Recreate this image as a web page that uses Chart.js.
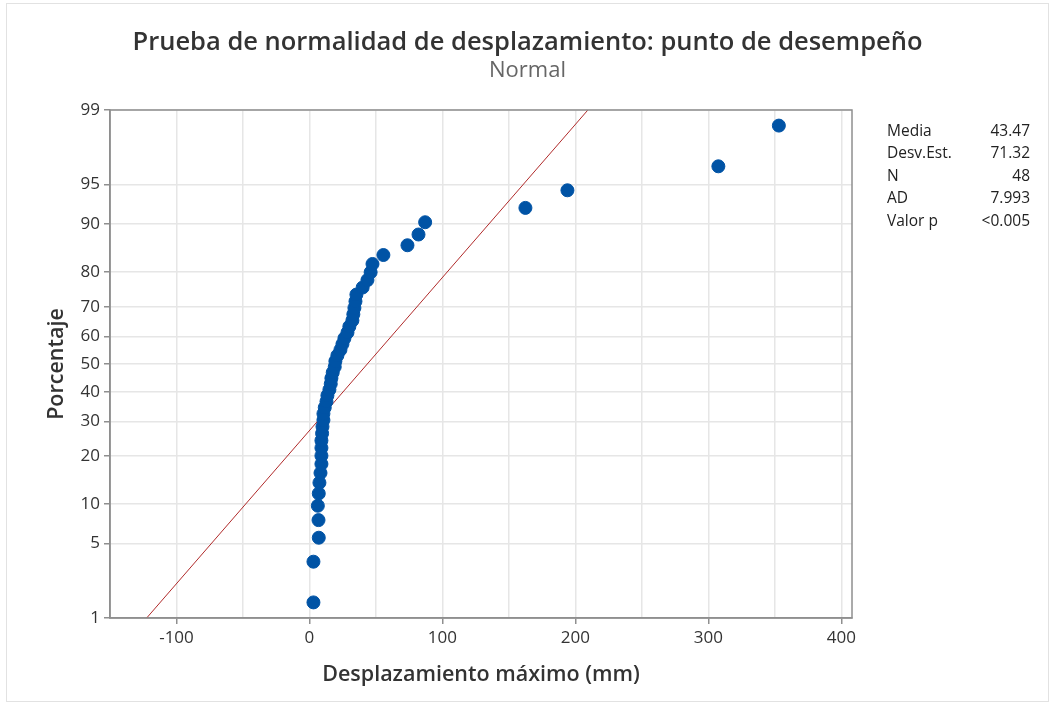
<!DOCTYPE html>
<html>
<head>
<meta charset="utf-8">
<script src="https://cdn.jsdelivr.net/npm/chart.js@4"></script>
<style>
    html, body { margin: 0; padding: 0; background: #fff; }
    .wrap { position: relative; width: 1055px; height: 706px; }
    .frame { position: absolute; left: 6px; top: 3px; width: 1043px; height: 699px; border: 1px solid #e2e2e2; box-sizing: border-box; pointer-events: none; }
    #stats { position: absolute; left: 887px; top: 119px; width: 143px; font-family: "Open Sans", "Noto Sans", sans-serif; font-size: 15.5px; color: #222; }
    #stats .row { display: flex; justify-content: space-between; height: 22.4px; line-height: 22.4px; white-space: nowrap; }
</style>
</head>
<body>
<div class="wrap">
    <canvas id="chart" width="1055" height="706"></canvas>
    <div class="frame"></div>
    <div id="stats"></div>
</div>
<script>
// ======== Data ========
// Displacement values, ordered (mm)
const desplazamiento = [
    3, 3, 7, 6.8, 6.3, 7, 7.5, 8.3, 9, 9,
    9, 9, 9.5, 9.8, 10.5, 10.5, 11.5, 12.8, 13.5, 15,
    16, 16.5, 17.5, 19, 19.5, 21, 23.3, 24.8, 26.3, 28.6,
    30, 32.3, 33, 33.8, 34.6, 35.3, 40, 43.6, 46, 47.4,
    55.6, 73.7, 82, 87, 162.4, 194, 307.5, 353
];
// Plotted percentages (median ranks) for each point
const porcentaje = [
    1.45, 3.51, 5.58, 7.64, 9.71, 11.78, 13.84, 15.91, 17.98, 20.04,
    22.11, 24.17, 26.24, 28.31, 30.37, 32.44, 34.50, 36.57, 38.64, 40.70,
    42.77, 44.83, 46.90, 48.97, 51.03, 53.10, 55.17, 57.23, 59.30, 61.36,
    63.43, 65.50, 67.56, 69.63, 71.69, 73.76, 75.83, 77.89, 79.96, 82.02,
    84.09, 86.16, 88.22, 90.29, 92.36, 94.42, 96.49, 98.55
];
const percentTicks = [1, 5, 10, 20, 30, 40, 50, 60, 70, 80, 90, 95, 99];
const xTicks = [-150, -100, -50, 0, 50, 100, 150, 200, 250, 300, 350, 400];
const statLabels = ['Media', 'Desv.Est.', 'N', 'AD', 'Valor p'];
const statValues = ['43.47', '71.32', '48', '7.993', '<0.005'];
const media = 43.47;
const desvEst = 71.32;

// ======== Normal quantile (probit) ========
function probit(p) {
    const a = [-39.69683028665376, 220.9460984245205, -275.9285104469687, 138.3577518672690, -30.66479806614716, 2.506628277459239];
    const b = [-54.47609879822406, 161.5858368580409, -155.6989798598866, 66.80131188771972, -13.28068155288572];
    const c = [-0.007784894002430293, -0.3223964580411365, -2.400758277161838, -2.549732539343734, 4.374664141464968, 2.938163982698783];
    const d = [0.007784695709041462, 0.3224671290700398, 2.445134137142996, 3.754408661907416];
    const pl = 0.02425;
    let q, r;
    if (p < pl) {
        q = Math.sqrt(-2 * Math.log(p));
        return (((((c[0] * q + c[1]) * q + c[2]) * q + c[3]) * q + c[4]) * q + c[5]) / ((((d[0] * q + d[1]) * q + d[2]) * q + d[3]) * q + 1);
    }
    if (p > 1 - pl) {
        q = Math.sqrt(-2 * Math.log(1 - p));
        return -(((((c[0] * q + c[1]) * q + c[2]) * q + c[3]) * q + c[4]) * q + c[5]) / ((((d[0] * q + d[1]) * q + d[2]) * q + d[3]) * q + 1);
    }
    q = p - 0.5;
    r = q * q;
    return (((((a[0] * r + a[1]) * r + a[2]) * r + a[3]) * r + a[4]) * r + a[5]) * q / (((((b[0] * r + b[1]) * r + b[2]) * r + b[3]) * r + b[4]) * r + 1);
}

const points = desplazamiento.map((x, i) => ({ x: x, y: probit(porcentaje[i] / 100) }));
const zLow = probit(0.01);
const zHigh = probit(0.99);
const fitLine = [
    { x: media + zLow * desvEst, y: zLow },
    { x: media + zHigh * desvEst, y: zHigh }
];

// ======== Stats table ========
const stats = document.getElementById('stats');
statLabels.forEach((label, i) => {
    const row = document.createElement('div');
    row.className = 'row';
    row.innerHTML = `<span>${label}</span><span>${statValues[i]}</span>`;
    stats.appendChild(row);
});

// ======== Frame around plot area ========
const frame = {
    id: 'frame',
    afterDraw(chart) {
        const { ctx, chartArea: a } = chart;
        ctx.save();
        ctx.strokeStyle = '#8f8f8f';
        ctx.lineWidth = 1.5;
        ctx.strokeRect(a.left, a.top, a.right - a.left, a.bottom - a.top);
        ctx.restore();
    }
};

const FONT = '"Open Sans", "Noto Sans", sans-serif';
Chart.defaults.font.family = FONT;

new Chart(document.getElementById('chart').getContext('2d'), {
    type: 'scatter',
    data: {
        datasets: [{
            type: 'line',
            data: fitLine,
            borderColor: '#b02a2a',
            borderWidth: 1,
            pointRadius: 0,
            fill: false,
            order: 2,
        }, {
            data: points,
            backgroundColor: '#0053a5',
            borderColor: '#0053a5',
            pointRadius: 6.5,
            pointHoverRadius: 6.5,
            order: 1,
        }],
    },
    options: {
        responsive: false,
        animation: false,
        layout: { padding: { left: 0, right: 0, top: 0, bottom: 0 } },
        plugins: {
            legend: { display: false },
            tooltip: { enabled: false },
            title: {
                display: true,
                text: 'Prueba de normalidad de desplazamiento: punto de desempeño',
                color: '#333',
                font: { size: 25.5, weight: '600' },
                padding: { top: 27, bottom: 0 },
            },
            subtitle: {
                display: true,
                text: 'Normal',
                color: '#666',
                font: { size: 22, weight: 'normal' },
                padding: { top: 0, bottom: 26 },
            },
        },
        scales: {
            x: {
                type: 'linear',
                min: -150,
                max: 408,
                afterBuildTicks: (scale) => { scale.ticks = xTicks.map(v => ({ value: v })); },
                afterFit: (scale) => { scale.height = 88; },
                border: { color: '#8f8f8f', width: 1.5 },
                grid: {
                    color: '#e6e6e6',
                    lineWidth: 1.5,
                    tickLength: 6,
                    tickColor: (ctx) => (ctx.tick && ctx.tick.value % 100 === 0 ? '#8f8f8f' : 'rgba(0,0,0,0)'),
                },
                ticks: {
                    color: '#333',
                    font: { size: 17 },
                    padding: 4,
                    maxRotation: 0,
                    autoSkip: false,
                    callback: (v) => (v % 100 === 0 ? String(v) : ''),
                },
                title: {
                    display: true,
                    text: 'Desplazamiento máximo (mm)',
                    color: '#333',
                    font: { size: 21.5, weight: '600' },
                    padding: { top: 0, bottom: 18 },
                },
            },
            y: {
                type: 'linear',
                min: zLow,
                max: zHigh,
                afterBuildTicks: (scale) => { scale.ticks = percentTicks.map(p => ({ value: probit(p / 100) })); },
                afterFit: (scale) => { scale.width = 110; },
                border: { color: '#8f8f8f', width: 1.5 },
                grid: {
                    color: '#e6e6e6',
                    lineWidth: 1.5,
                    tickLength: 6,
                    tickColor: '#8f8f8f',
                },
                ticks: {
                    color: '#333',
                    font: { size: 17 },
                    padding: 4,
                    autoSkip: false,
                    callback: (v, i) => String(percentTicks[i]),
                },
                title: {
                    display: true,
                    text: 'Porcentaje',
                    color: '#333',
                    font: { size: 21.5, weight: '600' },
                    padding: { top: 44, bottom: 0 },
                },
            },
            // empty right-hand axis that reserves room for the stats table
            spacer: {
                type: 'linear',
                position: 'right',
                display: true,
                afterFit: (scale) => { scale.width = 203; },
                grid: { display: false, drawTicks: false },
                border: { display: false },
                ticks: { display: false },
            },
        },
    },
    plugins: [frame],
});
</script>
</body>
</html>
